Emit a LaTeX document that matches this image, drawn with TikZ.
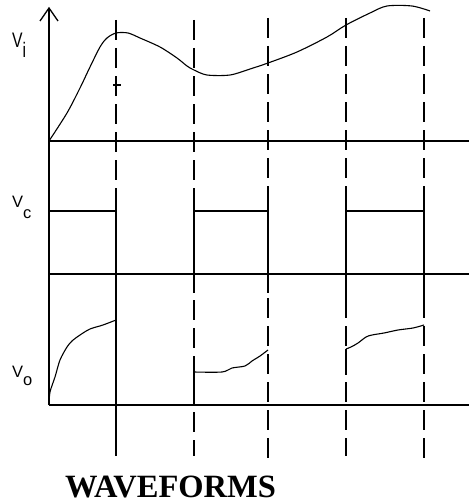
\documentclass[tikz,border=0pt]{standalone}
\usepackage{fontspec}
\setmainfont{Liberation Serif}
\newfontfamily\labelfont{Liberation Sans}
\newcommand{\sig}[2]{V\raisebox{-#2}{#1}}
\begin{document}
\begin{tikzpicture}[x=1pt,y=-1pt,
  axis/.style={line width=1.3pt},
  guide/.style={line width=1.4pt, dash pattern=on 20pt off 8pt},
  edge/.style={line width=1.4pt},
  wave/.style={line width=1.1pt},
  lbl/.style={anchor=base west, inner sep=0pt, font=\labelfont\fontsize{16.5}{16.5}\selectfont}]
\useasboundingbox (0,0) rectangle (469,503);

% axes
\draw[axis] (49,405) -- (49,8);
\draw[axis] (40,21) -- (49,8) -- (58,21);
\foreach \y in {141,274,405}
  \draw[axis] (49,\y) -- (469,\y);

% switching instants
\foreach \x/\t/\b in {116/20/456, 194/20/456, 268/18/460, 346/18/456, 424/18/460}
  \draw[guide] (\x,\t) -- (\x,\b);
\draw[edge] (116,188) -- (116,456);
\draw[edge] (194,194) -- (194,293);
\draw[edge] (194,372) -- (194,405);
\draw[edge] (268,197) -- (268,293);
\draw[edge] (346,192) -- (346,300);
\draw[edge] (346,349) -- (346,375);
\draw[edge] (424,197) -- (424,303);
\draw[edge] (113,85) -- (121,85);

% input
\draw[wave] plot[smooth] coordinates {(49,141) (67,113) (80,88) (90,67) (100,47)
  (107,38) (116,33) (128,33) (140,38) (160,47) (177,58) (187,66) (194,70) (207,75)
  (230,75) (250,69) (268,63) (297,52) (327,37) (346,25) (370,13) (387,6) (412,6) (430,11)};

% control
\foreach \a/\b in {49/116, 194/268, 346/424}
  \draw[edge] (\a,211) -- (\b,211);

% output
\draw[wave] plot[smooth] coordinates {(49,405) (50,392) (55,377) (60,360) (67,347)
  (72,341) (80,335) (90,329) (103,325) (116,320)};
\draw[wave] plot[smooth] coordinates {(194,372) (222,372) (232,368) (245,366)
  (252,361) (260,356) (268,350)};
\draw[wave] plot[smooth] coordinates {(346,349) (351,347) (358,343) (366,337)
  (372,335) (384,333) (398,330) (413,328) (424,325)};

% labels
\node[lbl, font=\labelfont\fontsize{21}{21}\selectfont] (vi) at (12,48) {\scalebox{0.75}[1]{\sig{i}{10pt}}};
\node[lbl] (vc) at (12,207) {\sig{c}{11pt}};
\node[lbl] (vo) at (12,377) {\sig{o}{8pt}};
\node[anchor=base west, inner sep=0pt, font=\bfseries\fontsize{32.5}{32.5}\selectfont]
  (title) at (65,497.5) {WAVEFORMS};
\end{tikzpicture}
\end{document}
